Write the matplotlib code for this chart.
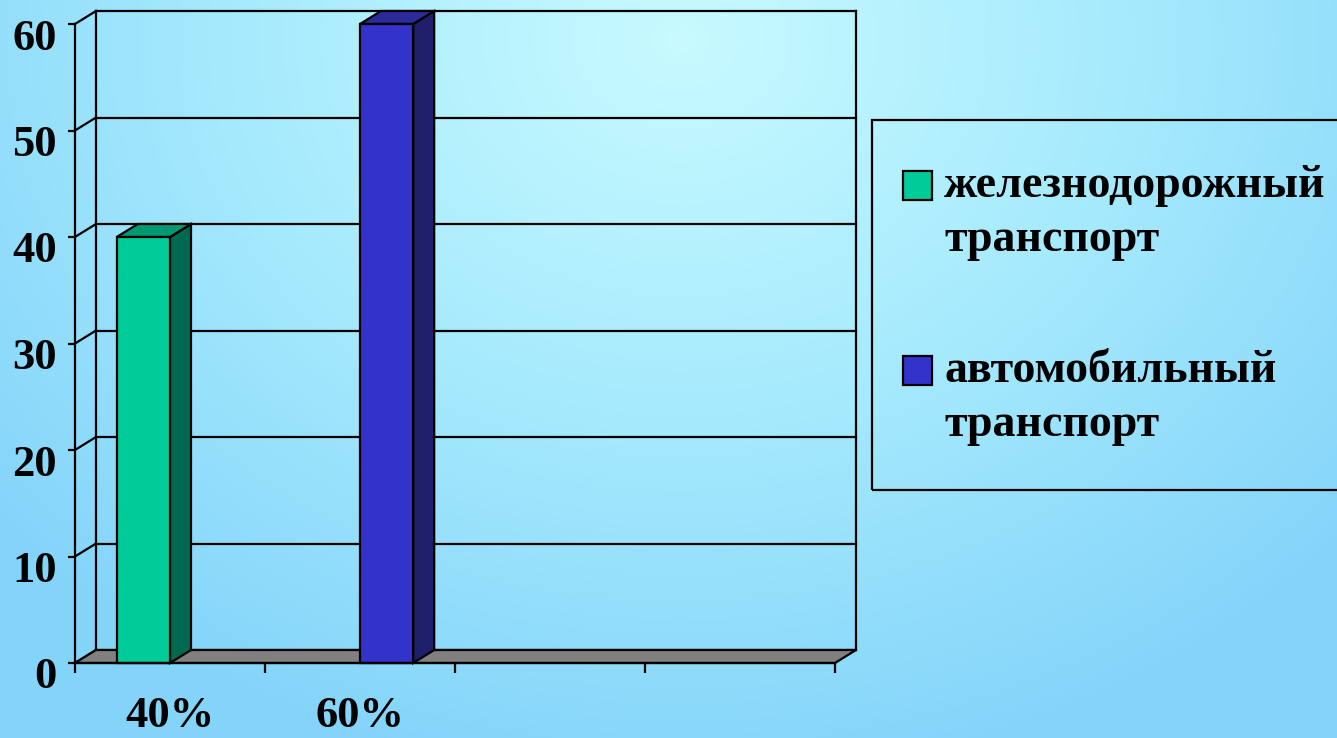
import numpy as np
import matplotlib.pyplot as plt
from matplotlib.patches import Polygon, Rectangle
from matplotlib.colors import LinearSegmentedColormap
import matplotlib.transforms as mtransforms

categories = ['40%', '60%', '', '']
series_names = ['железнодорожный\nтранспорт', 'автомобильный\nтранспорт']
rail = [40, 0, 0, 0]
auto = [0, 60, 0, 0]
yticks = [0, 10, 20, 30, 40, 50, 60]

front_colors = ['#00cc99', '#3333cc']
side_colors = ['#006a50', '#20206a']
top_colors = ['#009973', '#2b2b99']

plt.rcParams['font.family'] = ['Liberation Serif', 'DejaVu Serif']
plt.rcParams['font.weight'] = 'bold'

W, H = 1337, 738
fig = plt.figure(figsize=(W / 100, H / 100), dpi=100)

# background gradient
bg = fig.add_axes([0, 0, 1, 1], zorder=-10)
yy, xx = np.mgrid[0:H, 0:W]
d = np.sqrt(((xx - 680) / 900.0) ** 2 + ((yy - 40) / 750.0) ** 2)
d = np.clip(d, 0, 1)
cmap = LinearSegmentedColormap.from_list('bg', ['#c8faff', '#a6eafd', '#84d4fa'])
bg.imshow(d, cmap=cmap, aspect='auto', extent=[0, W, H, 0], vmin=0, vmax=1)
bg.axis('off')

# main axes: front frame of the 3d chart
ax = fig.add_axes([75 / W, (H - 663) / H, 760 / W, 639 / H])
ax.set_facecolor('none')
ax.set_xlim(-0.5, len(categories) - 0.5)
ax.set_ylim(0, 60)

dx = 21 / 190.0          # depth offset in category units
dy = 13 / (639 / 60.0)   # depth offset in value units
lw = 1.6
xl, xr = -0.5, len(categories) - 0.5

# back wall and gridlines
for v in yticks:
    ax.plot([xl + dx, xr + dx], [v + dy, v + dy], color='black', lw=lw, clip_on=False, zorder=1)
    ax.plot([xl, xl + dx], [v, v + dy], color='black', lw=lw, clip_on=False, zorder=1)
ax.plot([xl + dx, xl + dx], [dy, 60 + dy], color='black', lw=lw, clip_on=False, zorder=1)
ax.plot([xr + dx, xr + dx], [dy, 60 + dy], color='black', lw=lw, clip_on=False, zorder=1)

# floor
ax.add_patch(Polygon([[xl, 0], [xr, 0], [xr + dx, dy], [xl + dx, dy]], closed=True,
                     facecolor='#808080', edgecolor='black', lw=lw, clip_on=False, zorder=2))

# bars
w = 0.28
for s, vals in enumerate([rail, auto]):
    for i, v in enumerate(vals):
        if v == 0:
            continue
        x0 = i - w + s * w
        x1 = x0 + w
        ax.add_patch(Polygon([[x1, 0], [x1 + dx, dy], [x1 + dx, v + dy], [x1, v]], closed=True,
                             facecolor=side_colors[s], edgecolor='black', lw=lw, clip_on=False, zorder=3))
        ax.add_patch(Polygon([[x0, v], [x0 + dx, v + dy], [x1 + dx, v + dy], [x1, v]], closed=True,
                             facecolor=top_colors[s], edgecolor='black', lw=lw, clip_on=False, zorder=3))
        ax.add_patch(Rectangle((x0, 0), w, v, facecolor=front_colors[s], edgecolor='black',
                               lw=lw, clip_on=False, zorder=4))

for sp in ['top', 'right']:
    ax.spines[sp].set_visible(False)
for sp in ['left', 'bottom']:
    ax.spines[sp].set_linewidth(lw)
    ax.spines[sp].set_zorder(5)

ax.set_yticks(yticks)
ax.set_yticklabels([str(v) for v in yticks], fontsize=32, fontweight='bold')
ax.tick_params(axis='y', direction='out', length=5, width=lw, pad=8)
offset = mtransforms.ScaledTranslation(0, -10 / 100, fig.dpi_scale_trans)
for lbl in ax.get_yticklabels():
    lbl.set_transform(lbl.get_transform() + offset)

ax.set_xticks(np.arange(len(categories) + 1) - 0.5)
ax.set_xticklabels([])
ax.set_xticks(np.arange(len(categories)), minor=True)
ax.set_xticklabels(categories, minor=True, fontsize=32, fontweight='bold')
ax.tick_params(axis='x', which='major', direction='out', length=7, width=lw)
ax.tick_params(axis='x', which='minor', length=0, pad=24)

# legend box
fig.patches.append(Rectangle((872 / W, (H - 490) / H), 480 / W, 370 / H, transform=fig.transFigure,
                             facecolor='none', edgecolor='black', lw=lw, figure=fig))
leg_y = [185, 370]
for s, name in enumerate(series_names):
    yc = leg_y[s]
    fig.patches.append(Rectangle((903 / W, (H - yc - 15) / H), 29 / W, 29 / H, transform=fig.transFigure,
                                 facecolor=front_colors[s], edgecolor='black', lw=lw, figure=fig))
    fig.text(944 / W, (H - yc + 20) / H, name, fontsize=33, fontweight='bold', va='top', ha='left',
             linespacing=1.38)

fig.savefig('out.png', dpi=100)
